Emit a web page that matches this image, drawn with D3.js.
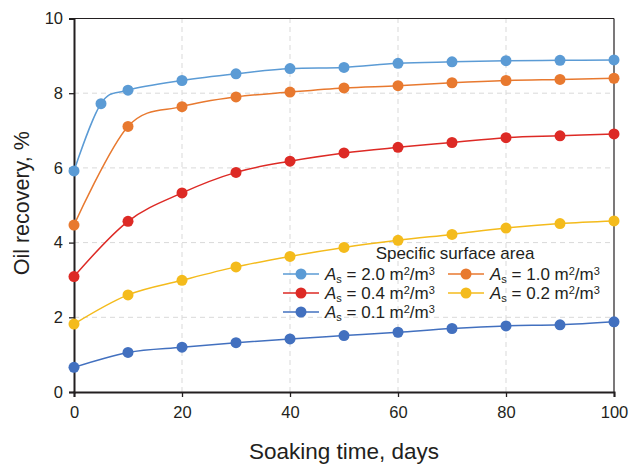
<!DOCTYPE html>
<html>
<head>
<meta charset="utf-8">
<script src="https://cdn.jsdelivr.net/npm/d3@7"></script>
<style>
  html, body { margin: 0; padding: 0; background: #fff; }
  svg { display: block; font-family: "Liberation Sans", Arial, sans-serif; }
</style>
</head>
<body>
<svg id="chart" width="630" height="465"></svg>
<script>
// Soaking time (days) for each series
const daysFine = [0, 5, 10, 20, 30, 40, 50, 60, 70, 80, 90, 100];
const days = [0, 10, 20, 30, 40, 50, 60, 70, 80, 90, 100];

// Oil recovery (%) per specific surface area
const as20 = [5.92, 7.72, 8.08, 8.34, 8.52, 8.66, 8.69, 8.80, 8.84, 8.87, 8.88, 8.89];
const as10 = [4.47, 7.11, 7.64, 7.90, 8.03, 8.14, 8.20, 8.28, 8.34, 8.37, 8.40];
const as04 = [3.09, 4.57, 5.33, 5.88, 6.18, 6.40, 6.55, 6.68, 6.81, 6.86, 6.91];
const as02 = [1.82, 2.60, 2.99, 3.35, 3.63, 3.87, 4.06, 4.22, 4.39, 4.51, 4.58];
const as01 = [0.66, 1.06, 1.20, 1.32, 1.42, 1.51, 1.60, 1.70, 1.77, 1.80, 1.88];

const seriesLabels = ["2.0", "1.0", "0.4", "0.2", "0.1"];
const seriesColors = ["#5b9bd5", "#e8792f", "#dd2a25", "#f4bb1c", "#4270bf"];

const xTicks = [0, 20, 40, 60, 80, 100];
const yTicks = [0, 2, 4, 6, 8, 10];

const series = [
  { label: seriesLabels[0], color: seriesColors[0], xs: daysFine, ys: as20 },
  { label: seriesLabels[1], color: seriesColors[1], xs: days, ys: as10 },
  { label: seriesLabels[2], color: seriesColors[2], xs: days, ys: as04 },
  { label: seriesLabels[3], color: seriesColors[3], xs: days, ys: as02 },
  { label: seriesLabels[4], color: seriesColors[4], xs: days, ys: as01 }
];

const svg = d3.select("#chart");
const margin = { left: 74, right: 16, top: 18.5, bottom: 73 };
const W = 630, H = 465;
const x = d3.scaleLinear().domain([0, 100]).range([margin.left, W - margin.right]);
const y = d3.scaleLinear().domain([0, 10]).range([H - margin.bottom, margin.top]);
const ink = "#231f20";

// Dashed grid
const grid = svg.append("g").attr("stroke", "#d9d9d9").attr("stroke-width", 1)
  .attr("stroke-dasharray", "5,4");
grid.selectAll(".gy").data(yTicks.filter(v => v > 0 && v < 10)).join("line")
  .attr("x1", x(0)).attr("x2", x(100)).attr("y1", d => y(d)).attr("y2", d => y(d));
grid.selectAll(".gx").data(xTicks.filter(v => v > 0 && v < 100)).join("line")
  .attr("y1", y(0)).attr("y2", y(10)).attr("x1", d => x(d)).attr("x2", d => x(d));

// Frame: thin top / right
svg.append("line").attr("x1", x(0)).attr("x2", x(100)).attr("y1", y(10)).attr("y2", y(10))
  .attr("stroke", ink).attr("stroke-width", 1.2);
svg.append("line").attr("x1", x(100)).attr("x2", x(100)).attr("y1", y(10)).attr("y2", y(0))
  .attr("stroke", ink).attr("stroke-width", 1.2);

// Axes
const xAxis = svg.append("g").attr("transform", `translate(0,${y(0)})`)
  .call(d3.axisBottom(x).tickValues(xTicks).tickSize(5).tickPadding(9).tickFormat(d3.format("d")));
const yAxis = svg.append("g").attr("transform", `translate(${x(0)},0)`)
  .call(d3.axisLeft(y).tickValues(yTicks).tickSize(5).tickPadding(6).tickFormat(d3.format("d")));
[xAxis, yAxis].forEach(a => {
  a.select(".domain").attr("stroke", ink).attr("stroke-width", 2);
  a.selectAll(".tick line").attr("stroke", ink).attr("stroke-width", 1.3);
  a.selectAll(".tick text").attr("fill", ink).attr("font-size", 16.5)
    .attr("font-family", "'Liberation Sans', Arial, sans-serif");
});

// Axis titles
svg.append("text").attr("x", 344).attr("y", 459).attr("text-anchor", "middle")
  .attr("font-size", 22.5).attr("fill", ink).text("Soaking time, days");
svg.append("text").attr("transform", `translate(29,${y(5) - 2}) rotate(-90)`)
  .attr("text-anchor", "middle").attr("font-size", 21.5).attr("fill", ink).text("Oil recovery, %");

// Smoothed series lines and markers
const line = d3.line().curve(d3.curveCatmullRom.alpha(0))
  .x(d => x(d[0])).y(d => y(d[1]));
series.forEach(s => {
  const pts = s.xs.map((v, i) => [v, s.ys[i]]);
  svg.append("path").datum(pts).attr("d", line).attr("fill", "none")
    .attr("stroke", s.color).attr("stroke-width", 1.5);
  svg.append("g").selectAll("circle").data(pts).join("circle")
    .attr("cx", d => x(d[0])).attr("cy", d => y(d[1])).attr("r", 5.5)
    .attr("fill", s.color);
});

// Legend
const lg = svg.append("g").attr("font-size", 17).attr("fill", ink);
lg.append("text").attr("x", 455).attr("y", 259).attr("text-anchor", "middle")
  .text("Specific surface area");
const cols = [283, 448];
const rows = [274, 293, 312];
series.forEach((s, i) => {
  const cx = cols[i % 2], cy = rows[Math.floor(i / 2)];
  const g = lg.append("g").attr("transform", `translate(${cx},${cy})`);
  g.append("line").attr("x1", 0).attr("x2", 36).attr("stroke", s.color).attr("stroke-width", 1.5);
  g.append("circle").attr("cx", 18).attr("r", 5.5).attr("fill", s.color);
  const t = g.append("text").attr("x", 42).attr("y", 6);
  t.append("tspan").attr("font-style", "italic").text("A");
  t.append("tspan").attr("font-size", 11).attr("dy", 3).text("s");
  t.append("tspan").attr("dy", -3).text(" = " + s.label + " m");
  t.append("tspan").attr("font-size", 11).attr("dy", -5).text("2");
  t.append("tspan").attr("dy", 5).text("/m");
  t.append("tspan").attr("font-size", 11).attr("dy", -5).text("3");
});
</script>
</body>
</html>
